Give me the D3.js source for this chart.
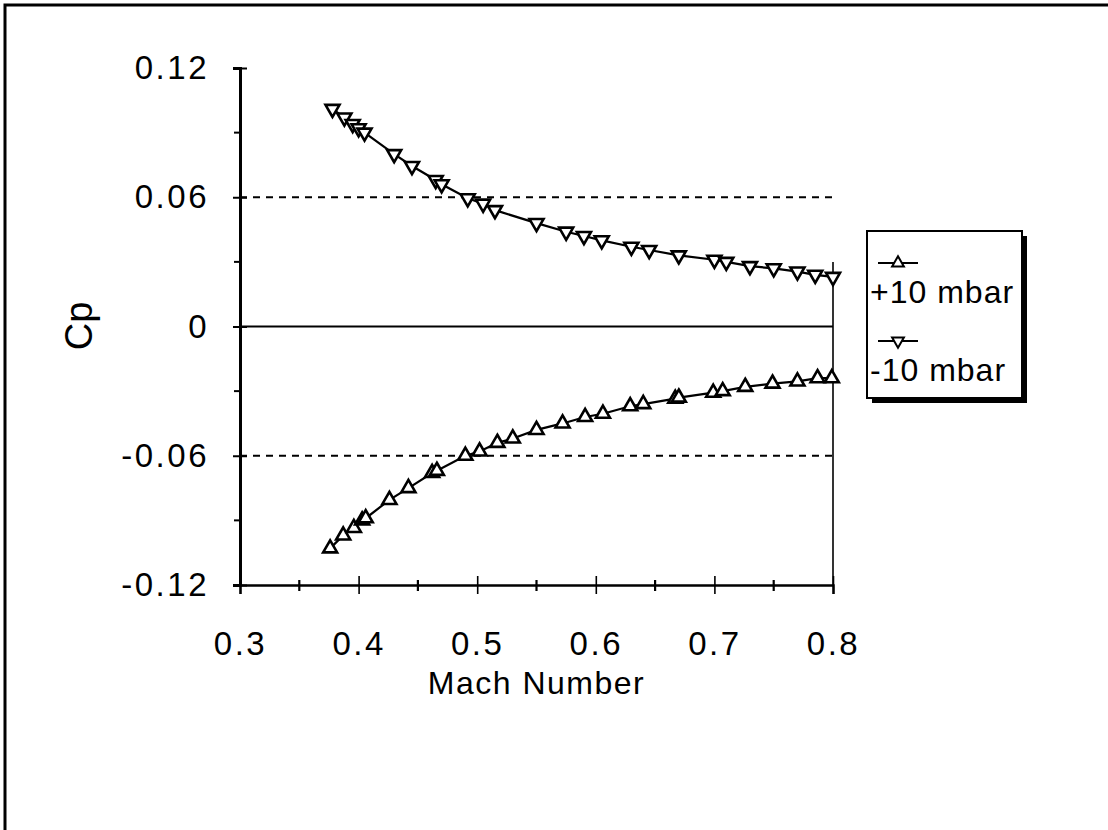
<!DOCTYPE html>
<html>
<head>
<meta charset="utf-8">
<script src="https://cdn.jsdelivr.net/npm/d3@7"></script>
<style>
  body { margin: 0; background: #fff; }
  svg { display: block; }
  text { font-family: "Liberation Sans", Arial, Helvetica, sans-serif; fill: #000; }
</style>
</head>
<body>
<svg width="1108" height="830"></svg>
<script>
// Mach number / Cp readings for the two pressure offsets
var machPlus = [0.376, 0.387, 0.396, 0.403, 0.406, 0.426, 0.442, 0.462, 0.466, 0.490, 0.502, 0.517, 0.530, 0.550, 0.572, 0.591, 0.606, 0.629, 0.640, 0.667, 0.670, 0.699, 0.707, 0.726, 0.749, 0.770, 0.787, 0.799];
var cpPlus   = [-0.103, -0.097, -0.0935, -0.090, -0.089, -0.0805, -0.075, -0.068, -0.067, -0.060, -0.058, -0.054, -0.052, -0.048, -0.045, -0.042, -0.0405, -0.037, -0.036, -0.0335, -0.033, -0.0307, -0.030, -0.028, -0.0265, -0.0255, -0.024, -0.024];

var machMinus = [0.378, 0.388, 0.395, 0.400, 0.405, 0.430, 0.445, 0.465, 0.470, 0.492, 0.505, 0.515, 0.550, 0.575, 0.590, 0.605, 0.630, 0.645, 0.670, 0.700, 0.710, 0.730, 0.750, 0.770, 0.785, 0.800];
var cpMinus   = [0.101, 0.097, 0.094, 0.092, 0.090, 0.080, 0.0745, 0.068, 0.066, 0.0595, 0.057, 0.054, 0.048, 0.044, 0.042, 0.040, 0.037, 0.0355, 0.033, 0.031, 0.030, 0.028, 0.027, 0.0255, 0.024, 0.023];

var seriesNames = ["+10 mbar", "-10 mbar"];
var xTicks = [0.3, 0.4, 0.5, 0.6, 0.7, 0.8];
var xMinor = [0.35, 0.45, 0.55, 0.65, 0.75];
var yTicks = [-0.12, -0.06, 0, 0.06, 0.12];
var yTickLabels = ["-0.12", "-0.06", "0", "0.06", "0.12"];
var yMinor = [-0.09, -0.03, 0.03, 0.09];
var gridValues = [-0.06, 0.06];

var svg = d3.select("svg");

// outer frame (top and left edges only, like the scan)
svg.append("path")
    .attr("d", "M5,830 L5,5 L1108,5")
    .attr("fill", "none")
    .attr("stroke", "#000")
    .attr("stroke-width", 3);

var x = d3.scaleLinear().domain([0.3, 0.8]).range([240, 833]);
var y = d3.scaleLinear().domain([-0.12, 0.12]).range([585, 68]);

var g = svg.append("g");

// dashed reference lines
g.selectAll(".grid")
  .data(gridValues)
  .enter().append("line")
    .attr("x1", x(0.3)).attr("x2", x(0.8))
    .attr("y1", function(d) { return y(d); })
    .attr("y2", function(d) { return y(d); })
    .attr("stroke", "#000")
    .attr("stroke-width", 2)
    .attr("stroke-dasharray", "7,6");

// zero line
g.append("line")
    .attr("x1", x(0.3)).attr("x2", x(0.8))
    .attr("y1", y(0)).attr("y2", y(0))
    .attr("stroke", "#000").attr("stroke-width", 2);

// right edge of plot (only visible in the lower part of the scan)
g.append("line")
    .attr("x1", x(0.8)).attr("x2", x(0.8))
    .attr("y1", y(0.03)).attr("y2", y(-0.12))
    .attr("stroke", "#000").attr("stroke-width", 1.6);

// y axis
var yAxis = d3.axisLeft(y)
    .tickValues(yTicks)
    .tickSize(7)
    .tickPadding(24)
    .tickFormat(function(d, i) { return yTickLabels[i]; });
var gy = g.append("g")
    .attr("transform", "translate(" + x(0.3) + ",0)")
    .call(yAxis);
gy.select(".domain").attr("stroke-width", 3);
gy.selectAll(".tick line").attr("stroke-width", 2);
gy.selectAll(".tick text")
    .attr("font-size", 33)
    .attr("letter-spacing", 2.5)
    .attr("font-family", "Liberation Sans, Arial, sans-serif");
gy.selectAll(".tick").append("line")
    .attr("x1", 0).attr("x2", 7)
    .attr("stroke", "#000").attr("stroke-width", 2);
gy.selectAll(".minor")
  .data(yMinor)
  .enter().append("line")
    .attr("x1", -6).attr("x2", 0)
    .attr("y1", function(d) { return y(d); })
    .attr("y2", function(d) { return y(d); })
    .attr("stroke", "#000").attr("stroke-width", 2);

// x axis
var xAxis = d3.axisBottom(x)
    .tickValues(xTicks)
    .tickSize(9)
    .tickPadding(38)
    .tickFormat(d3.format(".1f"));
var gx = g.append("g")
    .attr("transform", "translate(0," + y(-0.12) + ")")
    .call(xAxis);
gx.select(".domain").attr("stroke-width", 2.4);
gx.selectAll(".tick line").attr("stroke-width", 1.6);
gx.selectAll(".tick text")
    .attr("font-size", 33)
    .attr("letter-spacing", 2.5)
    .attr("font-family", "Liberation Sans, Arial, sans-serif");
gx.selectAll(".tick").append("line")
    .attr("y1", 0).attr("y2", -9)
    .attr("stroke", "#000").attr("stroke-width", 1.6);
gx.selectAll(".minor")
  .data(xMinor)
  .enter().append("line")
    .attr("x1", function(d) { return x(d); })
    .attr("x2", function(d) { return x(d); })
    .attr("y1", -5).attr("y2", 6)
    .attr("stroke", "#000").attr("stroke-width", 2.2);

// axis titles
svg.append("text")
    .attr("x", x(0.55))
    .attr("y", 694)
    .attr("text-anchor", "middle")
    .attr("font-size", 32)
    .attr("letter-spacing", 1.5)
    .text("Mach Number");

svg.append("text")
    .attr("transform", "translate(92,326) rotate(-90)")
    .attr("text-anchor", "middle")
    .attr("font-size", 38)
    .text("Cp");

// series
var up = d3.symbol().type(d3.symbolTriangle).size(85);
var line = d3.line()
    .x(function(d) { return x(d[0]); })
    .y(function(d) { return y(d[1]); });

function drawSeries(mach, cp, rot) {
  var pts = mach.map(function(m, i) { return [m, cp[i]]; });
  g.append("path")
      .datum(pts)
      .attr("d", line)
      .attr("fill", "none")
      .attr("stroke", "#000")
      .attr("stroke-width", 2.2);
  g.selectAll(null)
    .data(pts)
    .enter().append("path")
      .attr("d", up)
      .attr("transform", function(d) {
        return "translate(" + x(d[0]) + "," + y(d[1]) + ") rotate(" + rot + ")";
      })
      .attr("fill", "#fff")
      .attr("stroke", "#000")
      .attr("stroke-width", 2.6);
}
drawSeries(machPlus, cpPlus, 0);
drawSeries(machMinus, cpMinus, 180);

// legend
var lg = svg.append("g").attr("transform", "translate(867,231)");
lg.append("rect")
    .attr("x", 5).attr("y", 5).attr("width", 155).attr("height", 167)
    .attr("fill", "#000");
lg.append("rect")
    .attr("x", 0).attr("y", 0).attr("width", 155).attr("height", 167)
    .attr("fill", "#fff").attr("stroke", "#000").attr("stroke-width", 2);

seriesNames.forEach(function(name, i) {
  var yy = 32 + i * 78;
  lg.append("line")
      .attr("x1", 11).attr("x2", 51)
      .attr("y1", yy).attr("y2", yy)
      .attr("stroke", "#000").attr("stroke-width", 1.8);
  lg.append("path")
      .attr("d", d3.symbol().type(d3.symbolTriangle).size(60))
      .attr("transform", "translate(31," + yy + ") rotate(" + (i === 0 ? 0 : 180) + ")")
      .attr("fill", "#fff").attr("stroke", "#000").attr("stroke-width", 2);
  lg.append("text")
      .attr("x", 3)
      .attr("y", yy + 40)
      .attr("font-size", 32)
      .attr("letter-spacing", 1)
      .text(name);
});
</script>
</body>
</html>
